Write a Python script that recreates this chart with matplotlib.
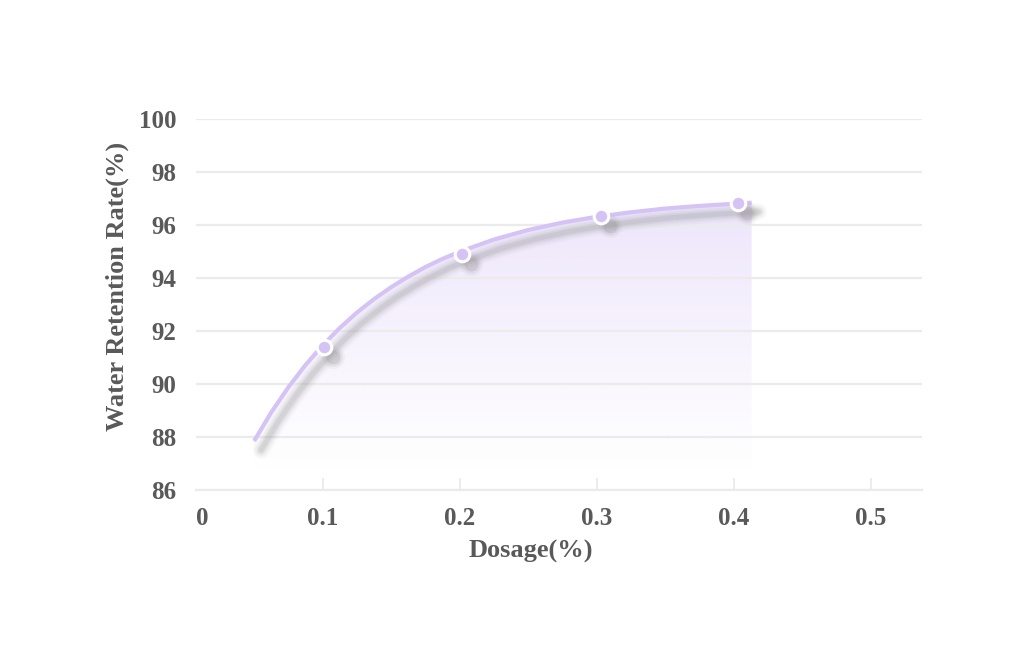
import numpy as np
import matplotlib
matplotlib.use('Agg')
import matplotlib.pyplot as plt
import matplotlib.transforms as mtransforms
from matplotlib.patches import Polygon

# ── data ─────────────────────────────────────────
# fitted curve
curve_x = [0.0500, 0.0625, 0.0750, 0.0875, 0.1000, 0.1125, 0.1250, 0.1375,
           0.1500, 0.1625, 0.1750, 0.1875, 0.200, 0.225, 0.250, 0.275,
           0.300, 0.325, 0.350, 0.375, 0.400, 0.413]
curve_y = [87.85, 88.93, 89.88, 90.72, 91.46, 92.12, 92.70, 93.21,
           93.66, 94.06, 94.42, 94.73, 95.00, 95.46, 95.82, 96.10,
           96.32, 96.49, 96.63, 96.73, 96.81, 96.85]
# measured points
dose = [0.101, 0.202, 0.303, 0.403]
retention = [91.4, 94.9, 96.35, 96.85]

x_ticks = [0.1, 0.2, 0.3, 0.4, 0.5]
x_labels = ['0.1', '0.2', '0.3', '0.4', '0.5']
y_ticks = [86, 88, 90, 92, 94, 96, 98, 100]

LINE = '#d5c3f5'
TXT = '#595959'
GRID = '#ebebeb'
FONT = 'Liberation Serif'

fig = plt.figure(figsize=(10.24, 6.47), dpi=100)
ax = fig.add_axes([0.1914, 0.2426, 0.7086, 0.573])
XMIN, XMAX = 0.0076, 0.537
ax.set_xlim(XMIN, XMAX)
ax.set_ylim(86, 100)

# grid + axes look
ax.set_yticks(y_ticks)
ax.set_yticklabels([str(v) for v in y_ticks])
ax.set_xticks([XMIN] + x_ticks)
ax.set_xticklabels(['0'] + x_labels)
ax.grid(axis='y', color=GRID, lw=1.6, zorder=0)
for s in ['top', 'right', 'left']:
    ax.spines[s].set_visible(False)
ax.spines['bottom'].set_color(GRID)
ax.spines['bottom'].set_linewidth(1.6)
ax.tick_params(axis='y', length=0, pad=14, labelsize=18, labelcolor=TXT)
ax.tick_params(axis='x', direction='in', length=9, width=1.3, color=GRID,
               pad=12, labelsize=18, labelcolor=TXT)
for lab in ax.get_xticklabels() + ax.get_yticklabels():
    lab.set_fontfamily(FONT)
    lab.set_fontweight('bold')
ax.get_xticklabels()[0].set_horizontalalignment('left')
ax.xaxis.get_major_ticks()[0].tick1line.set_visible(False)

# gradient fill under the curve
poly_xy = list(zip(curve_x, curve_y)) + [(curve_x[-1], 86), (curve_x[0], 86)]
clip = Polygon(poly_xy, closed=True, facecolor='none', edgecolor='none')
ax.add_patch(clip)
grad = np.zeros((256, 1, 4))
grad[..., 0], grad[..., 1], grad[..., 2] = 0.80, 0.72, 0.96
alpha = np.linspace(0.40, 0.0, 256) ** 1.1
grad[:, 0, 3] = alpha
im = ax.imshow(grad, extent=[curve_x[0], curve_x[-1], 86.6, 97.0],
               origin='upper', aspect='auto', zorder=1, interpolation='bilinear')
im.set_clip_path(clip)
ax.set_xlim(XMIN, XMAX)
ax.set_ylim(86, 100)

# soft shadow of the line
shadow = mtransforms.offset_copy(ax.transData, fig=fig, x=7, y=-9, units='dots')
for w, a in [(12, 0.05), (9, 0.08), (6, 0.12), (3.5, 0.14)]:
    ax.plot(curve_x, curve_y, color='#8a8a8a', lw=w, alpha=a,
            solid_capstyle='round', transform=shadow, zorder=2)

ax.plot(curve_x, curve_y, color=LINE, lw=3.0, solid_capstyle='butt', zorder=3)

# marker shadows
mshadow = mtransforms.offset_copy(ax.transData, fig=fig, x=9, y=-10, units='dots')
for s, a in [(280, 0.06), (180, 0.10), (100, 0.18)]:
    ax.scatter(dose, retention, s=s, color='#7a7a7a', alpha=a, lw=0,
               transform=mshadow, zorder=4)
ax.scatter(dose, retention, s=110, color=LINE, edgecolor='white',
           linewidth=2.2, zorder=5)

ax.set_xlabel('Dosage(%)', fontfamily=FONT, fontweight='bold', fontsize=19,
              color=TXT, va='center', ha='center')
ax.set_ylabel('Water Retention Rate(%)', fontfamily=FONT, fontweight='bold',
              fontsize=19, color=TXT, va='center', ha='center')
ax.xaxis.set_label_coords(0.462, -0.165)
ax.yaxis.set_label_coords(-0.109, 0.548)

fig.savefig('out.png', dpi=100, facecolor='white')
